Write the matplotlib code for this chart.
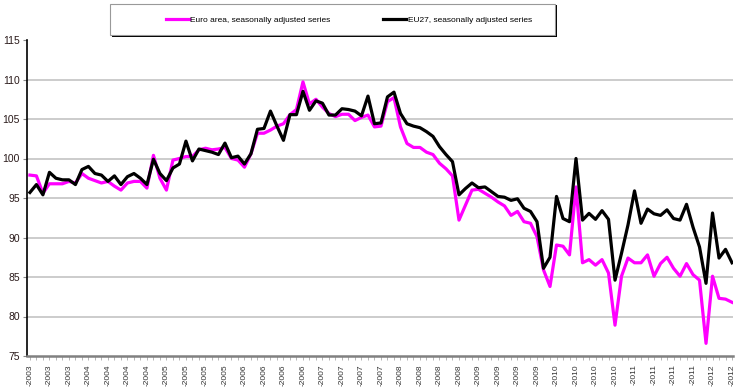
import matplotlib
matplotlib.use("Agg")
import matplotlib.pyplot as plt
from matplotlib.patches import Rectangle
import numpy as np
import pandas as pd

# monthly index, April 2003 - April 2012
meses = pd.date_range("2003-04-01", periods=109, freq="MS")

euro_area = [
    97.9, 97.8, 95.6, 96.8, 96.8, 96.8, 97.1, 96.9, 98.1, 97.5,
    97.2, 96.9, 97.1, 96.5, 96.0, 96.9, 97.1, 97.1, 96.25, 100.4,
    97.5, 96.0, 99.8, 100.0, 100.25, 100.25, 101.1, 101.3, 101.1, 101.2,
    101.4, 100.0, 99.8, 98.9, 100.6, 103.2, 103.2, 103.6, 104.1, 104.4,
    105.55, 106.2, 109.7, 106.9, 107.5, 106.5, 105.7, 105.3, 105.6, 105.6,
    104.8, 105.2, 105.5, 104.0, 104.1, 107.2, 107.7, 104.0, 101.9, 101.4,
    101.4, 100.8, 100.5, 99.4, 98.7, 97.8, 92.2, 94.1, 96.0, 96.1,
    95.6, 95.1, 94.5, 94.0, 92.8, 93.3, 92.0, 91.8, 90.1, 85.9,
    83.8, 89.05, 88.9, 87.8, 96.4, 86.8, 87.2, 86.5, 87.2, 85.5,
    78.9, 85.1, 87.4, 86.8, 86.8, 87.8, 85.1, 86.7, 87.5, 86.1,
    85.1, 86.7, 85.3, 84.6, 76.6, 85.1, 82.3, 82.2, 81.8,
]

eu27 = [
    95.7, 96.7, 95.4, 98.25, 97.5, 97.3, 97.3, 96.7, 98.6, 99.0,
    98.1, 97.9, 97.1, 97.8, 96.7, 97.7, 98.1, 97.5, 96.7, 99.9,
    98.1, 97.2, 98.8, 99.3, 102.2, 99.7, 101.2, 101.0, 100.8, 100.5,
    101.95, 100.1, 100.3, 99.3, 100.6, 103.7, 103.8, 106.0, 104.1, 102.3,
    105.55, 105.55, 108.5, 106.1, 107.3, 107.0, 105.5, 105.5, 106.3, 106.2,
    106.0, 105.4, 107.9, 104.4, 104.5, 107.8, 108.4, 105.7, 104.4, 104.1,
    103.9, 103.4, 102.8, 101.5, 100.5, 99.6, 95.4, 96.2, 96.9, 96.3,
    96.4, 95.8, 95.2, 95.1, 94.7, 94.9, 93.7, 93.3, 92.0, 86.1,
    87.5, 95.2, 92.4, 92.0, 100.0, 92.2, 93.05, 92.3, 93.4, 92.3,
    84.6, 88.0, 91.6, 95.9, 91.8, 93.6, 93.0, 92.8, 93.5, 92.4,
    92.2, 94.2, 91.3, 88.8, 84.2, 93.1, 87.4, 88.5, 86.8,
]

rotulos = ["-" + str(m.year) for m in meses]

plt.rcParams["font.family"] = ["Liberation Sans", "DejaVu Sans"]

fig = plt.figure(figsize=(7.4, 3.89), dpi=100)
ax = fig.add_axes([27 / 740, 1 - 356 / 389, 706 / 740, 316 / 389])

x = np.arange(len(meses))

for v in range(80, 115, 5):
    ax.axhline(v, color="#c8c8c8", lw=1.3, zorder=1)

ax.plot(x, euro_area, color="#ff00ff", lw=2.3, zorder=3,
        label="Euro area, seasonally adjusted series")
ax.plot(x, eu27, color="black", lw=2.3, zorder=4,
        label="EU27, seasonally adjusted series")

ax.set_xlim(-0.45, 108.15)
ax.set_ylim(75, 115)
ax.set_yticks(range(75, 116, 5))
ax.tick_params(axis="y", labelsize=7.5, labelcolor="#2a1a1a", length=3,
               width=0.8, color="#888888", pad=2)

ax.set_xticks(x[::3])
ax.set_xticklabels(rotulos[::3], rotation=90, fontsize=6, color="#333333")
ax.set_xticks(x, minor=True)
ax.tick_params(axis="x", which="both", length=3, width=0.6, color="#aaaaaa", pad=3)

for lado in ["top", "right"]:
    ax.spines[lado].set_visible(False)
ax.spines["left"].set_color("black")
ax.spines["left"].set_linewidth(1.2)
ax.spines["bottom"].set_color("#808080")
ax.spines["bottom"].set_linewidth(1.8)

# legend box with a dark shadow, like the original
fig.patches.append(Rectangle((112 / 740, 1 - 37 / 389), 445 / 740, 32 / 389,
                             transform=fig.transFigure, facecolor="black",
                             edgecolor="none", zorder=0))
fig.patches.append(Rectangle((110 / 740, 1 - 35 / 389), 445 / 740, 31 / 389,
                             transform=fig.transFigure, facecolor="white",
                             edgecolor="#999999", lw=0.8, zorder=1))
fig.legend(loc="center left", bbox_to_anchor=(160 / 740, 1 - 20 / 389),
           ncol=2, frameon=False, fontsize=6, handlelength=2.8,
           handletextpad=0.15, columnspacing=6.3, borderpad=0.2)

fig.savefig("out.png", dpi=100)
